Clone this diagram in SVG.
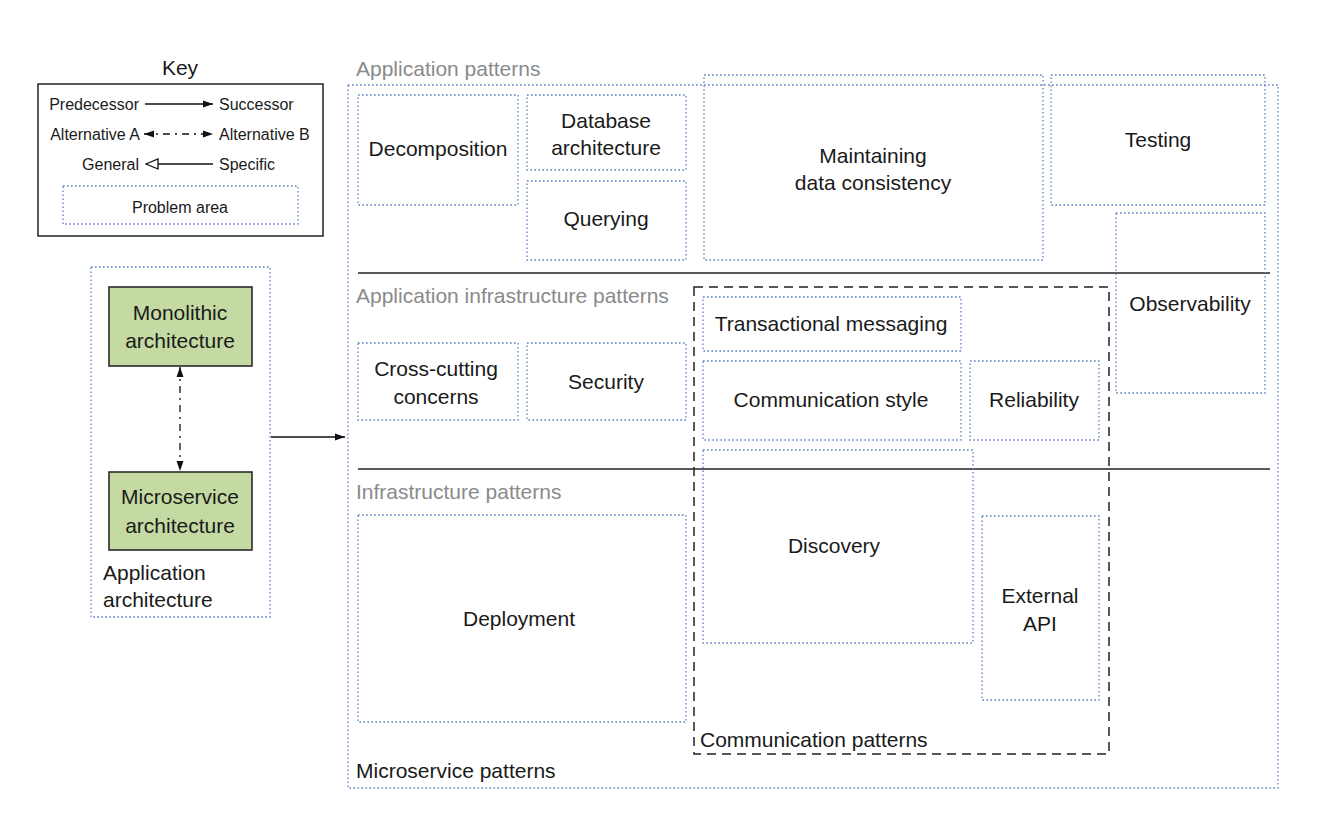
<svg xmlns="http://www.w3.org/2000/svg" width="1326" height="814" viewBox="0 0 1326 814">
<style>
text{font-family:"Liberation Sans",Arial,sans-serif;fill:#1a1a1a}
.n{font-size:21px;text-anchor:middle}
.k{font-size:16px}
.g{font-size:21px;fill:#8a8a8a}
.b{font-size:21px}
.dot{fill:none;stroke:#5b7fc0;stroke-width:1.3;stroke-dasharray:1.6 2.4}
.sol{fill:none;stroke:#222;stroke-width:1.5}
.grn{fill:#c4daa2;stroke:#2a2a2a;stroke-width:1.6}
</style>
<defs>
<marker id="ah" viewBox="0 0 10 10" refX="10" refY="5" markerWidth="10" markerHeight="10" markerUnits="userSpaceOnUse" orient="auto-start-reverse"><path d="M0,1.5 L10,5 L0,8.5 z" fill="#111"/></marker>
<marker id="tri" viewBox="0 0 14 12" refX="13" refY="6" markerWidth="14" markerHeight="12" markerUnits="userSpaceOnUse" orient="auto"><path d="M1,1 L13,6 L1,11 z" fill="#fff" stroke="#111" stroke-width="1.3"/></marker>
</defs>
<rect width="1326" height="814" fill="#fff"/>

<g id="key">
<text x="180" y="75" font-size="21" text-anchor="middle">Key</text>
<rect x="38" y="84" width="285" height="152" class="sol"/>
<text x="139" y="110" class="k" text-anchor="end">Predecessor</text>
<text x="219" y="110" class="k">Successor</text>
<text x="140" y="140" class="k" text-anchor="end">Alternative A</text>
<text x="219" y="140" class="k">Alternative B</text>
<text x="139" y="170" class="k" text-anchor="end">General</text>
<text x="219" y="170" class="k">Specific</text>
<line x1="145" y1="104" x2="213" y2="104" stroke="#111" stroke-width="1.3" marker-end="url(#ah)"/>
<line x1="144" y1="134" x2="213" y2="134" stroke="#111" stroke-width="1.3" stroke-dasharray="7 5 2 5" marker-start="url(#ah)" marker-end="url(#ah)"/>
<line x1="213" y1="164" x2="146" y2="164" stroke="#111" stroke-width="1.3" marker-end="url(#tri)"/>
<rect x="63" y="186" width="235" height="38" class="dot"/>
<text x="180" y="213" class="k" text-anchor="middle">Problem area</text>
</g>

<g id="application-architecture">
<rect x="91" y="267" width="179" height="350" class="dot"/>
<text x="103" y="580" class="b">Application</text>
<text x="103" y="607" class="b">architecture</text>
</g>
<g id="monolithic">
<rect x="109" y="287" width="143" height="79" class="grn"/>
<text x="180" y="320" class="n">Monolithic</text>
<text x="180" y="348" class="n">architecture</text>
</g>
<g id="microservice">
<rect x="109" y="472" width="143" height="78" class="grn"/>
<text x="180" y="504" class="n">Microservice</text>
<text x="180" y="533" class="n">architecture</text>
</g>

<g id="microservice-patterns">
<rect x="348" y="85" width="930" height="703" class="dot"/>
<text x="356" y="778" class="b">Microservice patterns</text>
<text x="356" y="76" class="g">Application patterns</text>
<text x="356" y="303" class="g">Application infrastructure patterns</text>
<text x="356" y="499" class="g">Infrastructure patterns</text>
<line x1="358" y1="273" x2="1270" y2="273" class="sol"/>
<line x1="358" y1="469" x2="1270" y2="469" class="sol"/>
</g>

<g id="communication-patterns">
<rect x="694" y="287" width="415" height="467" fill="none" stroke="#222" stroke-width="1.5" stroke-dasharray="9 6"/>
<text x="700" y="747" class="b">Communication patterns</text>
</g>

<g id="decomposition"><rect x="358" y="95" width="160" height="110" class="dot"/><text x="438" y="156" class="n">Decomposition</text></g>
<g id="database-architecture"><rect x="527" y="95" width="159" height="75" class="dot"/><text x="606" y="128" class="n">Database</text><text x="606" y="155" class="n">architecture</text></g>
<g id="querying"><rect x="527" y="181" width="159" height="79" class="dot"/><text x="606" y="226" class="n">Querying</text></g>
<g id="maintaining"><rect x="704" y="75" width="339" height="185" class="dot"/><text x="873" y="163" class="n">Maintaining</text><text x="873" y="190" class="n">data consistency</text></g>
<g id="testing"><rect x="1051" y="75" width="214" height="130" class="dot"/><text x="1158" y="147" class="n">Testing</text></g>
<g id="observability"><rect x="1116" y="213" width="149" height="180" class="dot"/><text x="1190" y="311" class="n">Observability</text></g>
<g id="cross-cutting"><rect x="358" y="343" width="160" height="77" class="dot"/><text x="436" y="376" class="n">Cross-cutting</text><text x="436" y="404" class="n">concerns</text></g>
<g id="security"><rect x="527" y="343" width="159" height="77" class="dot"/><text x="606" y="389" class="n">Security</text></g>
<g id="transactional-messaging"><rect x="703" y="297" width="258" height="54" class="dot"/><text x="831" y="331" class="n">Transactional messaging</text></g>
<g id="communication-style"><rect x="703" y="361" width="258" height="79" class="dot"/><text x="831" y="407" class="n">Communication style</text></g>
<g id="reliability"><rect x="970" y="361" width="129" height="79" class="dot"/><text x="1034" y="407" class="n">Reliability</text></g>
<g id="discovery"><rect x="703" y="450" width="270" height="193" class="dot"/><text x="834" y="553" class="n">Discovery</text></g>
<g id="deployment"><rect x="358" y="515" width="328" height="207" class="dot"/><text x="519" y="626" class="n">Deployment</text></g>
<g id="external-api"><rect x="982" y="516" width="117" height="184" class="dot"/><text x="1040" y="603" class="n">External</text><text x="1040" y="631" class="n">API</text></g>

<g id="connectors">
<line x1="180" y1="367" x2="180" y2="471" stroke="#111" stroke-width="1.3" stroke-dasharray="7 5 2 5" marker-start="url(#ah)" marker-end="url(#ah)"/>
<line x1="271" y1="437" x2="345" y2="437" stroke="#111" stroke-width="1.3" marker-end="url(#ah)"/>
</g>
</svg>
